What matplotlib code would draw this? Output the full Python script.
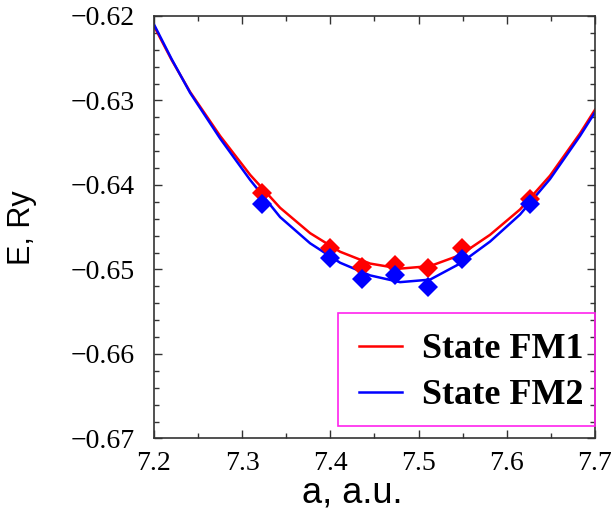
import matplotlib
matplotlib.use("Agg")
import matplotlib.pyplot as plt
from matplotlib.patches import Rectangle
from matplotlib.ticker import MultipleLocator, FuncFormatter

# fitted E(a) curves
curve_a = [7.200, 7.220, 7.241, 7.275, 7.309, 7.343, 7.377, 7.411, 7.445,
           7.479, 7.513, 7.547, 7.581, 7.615, 7.649, 7.683, 7.700]
curve_fm1 = [-0.6212, -0.6252, -0.6290, -0.6342, -0.6388, -0.6427, -0.6457,
             -0.6479, -0.6493, -0.6499, -0.6496, -0.6483, -0.6459, -0.6429,
             -0.6389, -0.6339, -0.6311]
curve_fm2 = [-0.6210, -0.6251, -0.6291, -0.6345, -0.6394, -0.6438, -0.6469,
             -0.6492, -0.6507, -0.6515, -0.6512, -0.6493, -0.6467, -0.6435,
             -0.6393, -0.6342, -0.6314]

# calculated points
pts_a = [7.322, 7.399, 7.4355, 7.473, 7.511, 7.5495, 7.626]
pts_fm1 = [-0.6410, -0.6475, -0.6497, -0.6495, -0.6498, -0.6475, -0.6417]
pts_fm2 = [-0.6422, -0.6487, -0.6511, -0.6506, -0.6521, -0.6488, -0.6423]

SERIF = "Liberation Serif"
SANS = "Liberation Sans"

fig = plt.figure(figsize=(6.13, 5.12), dpi=100)
ax = fig.add_axes([0.2512, 0.1436, 0.7194, 0.8252])

ax.plot(curve_a, curve_fm1, color="#ff0000", linewidth=1.8, label="State FM1",
        solid_joinstyle="round")
ax.plot(curve_a, curve_fm2, color="#0000ff", linewidth=1.8, label="State FM2",
        solid_joinstyle="round")
ax.plot(pts_a, pts_fm1, linestyle="none", marker="D", markersize=10.5,
        color="#ff0000", markeredgewidth=0)
ax.plot(pts_a, pts_fm2, linestyle="none", marker="D", markersize=10.5,
        color="#0000ff", markeredgewidth=0)

ax.set_xlim(7.2, 7.7)
ax.set_ylim(-0.67, -0.62)
ax.xaxis.set_major_locator(MultipleLocator(0.1))
ax.xaxis.set_minor_locator(MultipleLocator(0.05))
ax.yaxis.set_major_locator(MultipleLocator(0.01))
ax.yaxis.set_minor_locator(MultipleLocator(0.002))
ax.xaxis.set_major_formatter(FuncFormatter(lambda v, p: f"{v:.1f}"))
ax.yaxis.set_major_formatter(
    FuncFormatter(lambda v, p: f"{v:.2f}".replace("-", "\u2212")))

ax.tick_params(which="both", direction="in", top=True, right=True,
               color="#333333", width=1.0)
ax.tick_params(which="major", length=6)
ax.tick_params(which="minor", length=3.5)
ax.tick_params(axis="x", which="major", pad=9)
ax.tick_params(axis="y", which="major", pad=14)
for lab in ax.get_xticklabels() + ax.get_yticklabels():
    lab.set_fontfamily(SERIF)
    lab.set_fontsize(20)
for sp in ax.spines.values():
    sp.set_color("#333333")
    sp.set_linewidth(1.2)

ax.set_xlabel("a, a.u.", fontfamily=SANS, fontsize=26)
ax.xaxis.set_label_coords(0.449, -0.1527)
ax.xaxis.label.set_va("baseline")
ax.set_ylabel("E, Ry", fontfamily=SANS, fontsize=22)
ax.yaxis.set_label_coords(-0.299, 0.5)
ax.yaxis.label.set_va("center")

# legend box
ax.add_patch(Rectangle((0.417, 0.0296), 0.583, 0.2667, transform=ax.transAxes,
                       fill=False, edgecolor="#ff22ee", linewidth=1.2,
                       clip_on=False, zorder=5))
ax.legend(loc="center left", bbox_to_anchor=(0.4649, 0.156), frameon=False,
          borderpad=0, borderaxespad=0, handlelength=1.2, handletextpad=0.55,
          labelspacing=0.35,
          prop={"family": SERIF, "weight": "bold", "size": 26})

fig.savefig("out.png", dpi=100)
